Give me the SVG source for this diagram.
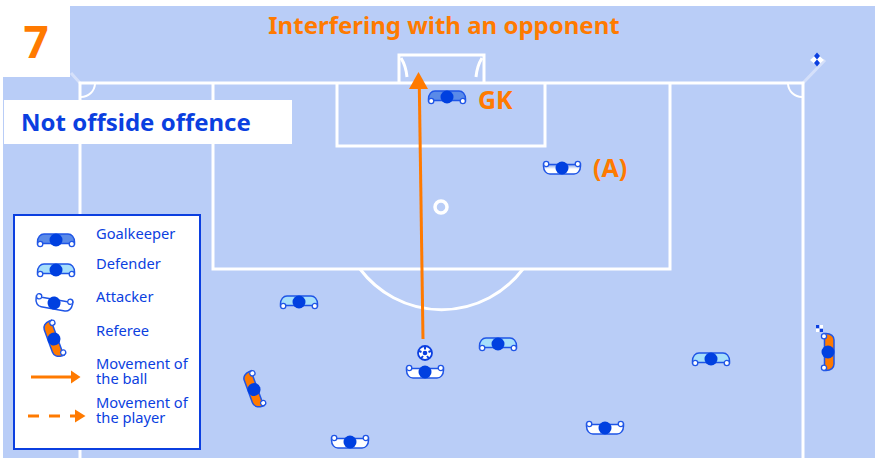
<svg xmlns="http://www.w3.org/2000/svg" width="877" height="458" viewBox="0 0 877 458">
<style>
text{font-family:"Noto Sans","Open Sans","Liberation Sans",sans-serif}
.o{fill:#ff7a00;font-weight:700;font-size:24px}
.b{fill:#0b3fe0;font-size:14.700px}
.line{fill:none;stroke:#fff;stroke-width:3}
.thin{fill:none;stroke:#fff;stroke-width:2}
.pale{fill:none;stroke:#d5e0fa;stroke-width:3}
.gk{fill:#5a8ae8}.def{fill:#a6defb}.att{fill:#fff}.ref{fill:#ff7a00}.a{fill:url(#ag)}
</style>
<defs>
<linearGradient id="ag" x1="0" y1="0" x2="0" y2="1"><stop offset="0" stop-color="#fff"/><stop offset="0.5" stop-color="#fff"/><stop offset="1" stop-color="#6f96ea"/></linearGradient>
<g id="p">
<path d="M-18.500 2C-18.500-3-15.500-6-12-6L12-6C15.500-6 18.500-3 18.500 2L18.500 4L13 3.500L-13 3.500L-18.500 4Z" stroke="#1f55e6" stroke-width="1.500"/>
<circle cx="-15.800" cy="4" r="2.600" fill="#fff" stroke="#1f55e6" stroke-width="1.300"/>
<circle cx="15.800" cy="4" r="2.600" fill="#fff" stroke="#1f55e6" stroke-width="1.300"/>
<circle r="6.500" fill="#0040e0"/>
</g>
</defs>
<rect width="877" height="458" fill="#fff"/>
<path d="M70 6H875V458H3V77H70Z" fill="#b9cdf7"/>
<g id="pitch">
<path class="pale" d="M71 73L80 83M803 83L825 60"/>
<path class="line" d="M80 458V83H803V458M213 83V269H670V83M337 83V146H545V83M399 83V55H484V83"/>
<path class="thin" d="M81 97A14 14 0 0 0 95 84M802 97A14 14 0 0 1 788 84"/>
<path class="line" d="M360 269A102 102 0 0 0 523 269M401 58Q406 66 407 77M482 58Q477 66 476 77"/>
<circle cx="441" cy="207" r="6" fill="none" stroke="#fff" stroke-width="3.500"/>
</g>
<g id="corner-flag">
<path d="M817 54L824 60L817 66L810 60Z" fill="#fff"/>
<path d="M817 52.500L820 56L817 59.500L814 56ZM817 59.500L820 63L817 66.500L814 63Z" fill="#0b3fe0"/>
</g>
<g id="number"><rect y="0" width="70" height="77" fill="#fff"/><text x="36" y="58" text-anchor="middle" style="fill:#ff7a00;font-weight:700;font-size:44px">7</text></g>
<text id="title" class="o" x="444" y="34" text-anchor="middle">Interfering with an opponent</text>
<g id="status"><rect x="4" y="100" width="288" height="44" fill="#fff"/><text x="21" y="131" style="fill:#0b3fe0;font-weight:700;font-size:24px">Not offside offence</text></g>
<g id="connectors">
<path d="M423 339L419.300 86" fill="none" stroke="#ff7a00" stroke-width="3"/>
<path d="M418.500 72L428 89H409Z" fill="#ff7a00"/>
</g>
<g id="goalkeeper"><use href="#p" class="gk" x="447" y="97"/><text class="o" x="478" y="109" style="font-size:25px">GK</text></g>
<g id="attacker-a"><use href="#p" class="a" transform="translate(562 168) scale(1 -1)"/><text class="o" x="593" y="177" style="font-size:25px">(A)</text></g>
<g id="attacker-1"><use href="#p" class="att" transform="translate(425 372) scale(1 -1)"/></g>
<g id="attacker-2"><use href="#p" class="att" transform="translate(350 442) scale(1 -1)"/></g>
<g id="attacker-3"><use href="#p" class="att" transform="translate(605 428) scale(1 -1)"/></g>
<g id="defender-1"><use href="#p" class="def" x="299" y="302"/></g>
<g id="defender-2"><use href="#p" class="def" x="498" y="344"/></g>
<g id="defender-3"><use href="#p" class="def" x="711" y="359"/></g>
<g id="referee-1"><use href="#p" class="ref" transform="translate(254 389.500) rotate(70) scale(1 -1)"/></g>
<g id="referee-2"><use href="#p" class="ref" transform="translate(828 352) rotate(90)"/><path d="M816 325h3.500v3.500h-3.500zM819.500 328.500h3.500v3.500h-3.500z" fill="#0b3fe0"/><path d="M819.500 325h3.500v3.500h-3.500zM816 328.500h3.500v3.500h-3.500z" fill="#fff"/></g>
<g id="ball">
<circle cx="425" cy="353" r="7" fill="#fff" stroke="#0b3fe0" stroke-width="1.800"/>
<circle cx="425" cy="353" r="2.300" fill="#0b3fe0"/>
<path d="M425 347v2.500M431 351l-2.500 1M429 358.500l-2-2.500M421 358.500l2-2.500M419 351l2.500 1" stroke="#0b3fe0" stroke-width="2"/>
</g>
<g id="legend">
<rect x="14" y="215" width="186" height="234" fill="#fff" stroke="#0b3fe0" stroke-width="2"/>
<use href="#p" class="gk" x="56" y="240"/>
<use href="#p" class="def" x="56" y="270"/>
<use href="#p" class="att" transform="translate(54 303) rotate(10) scale(1 -1)"/>
<use href="#p" class="ref" transform="translate(54 339) rotate(70) scale(1 -1)"/>
<text class="b" x="96" y="239">Goalkeeper</text>
<text class="b" x="96" y="269">Defender</text>
<text class="b" x="96" y="302">Attacker</text>
<text class="b" x="96" y="336">Referee</text>
<text class="b" x="96" y="369">Movement of<tspan x="96" y="384">the ball</tspan></text>
<text class="b" x="96" y="408">Movement of<tspan x="96" y="423">the player</tspan></text>
<path d="M31 377H72" stroke="#ff7a00" stroke-width="3"/><path d="M80.500 377L71 370.500V383.500Z" fill="#ff7a00"/>
<path d="M28 416H76" stroke="#ff7a00" stroke-width="3" stroke-dasharray="11 10"/><path d="M85.500 416L75 409.500V422.500Z" fill="#ff7a00"/>
</g>
</svg>
